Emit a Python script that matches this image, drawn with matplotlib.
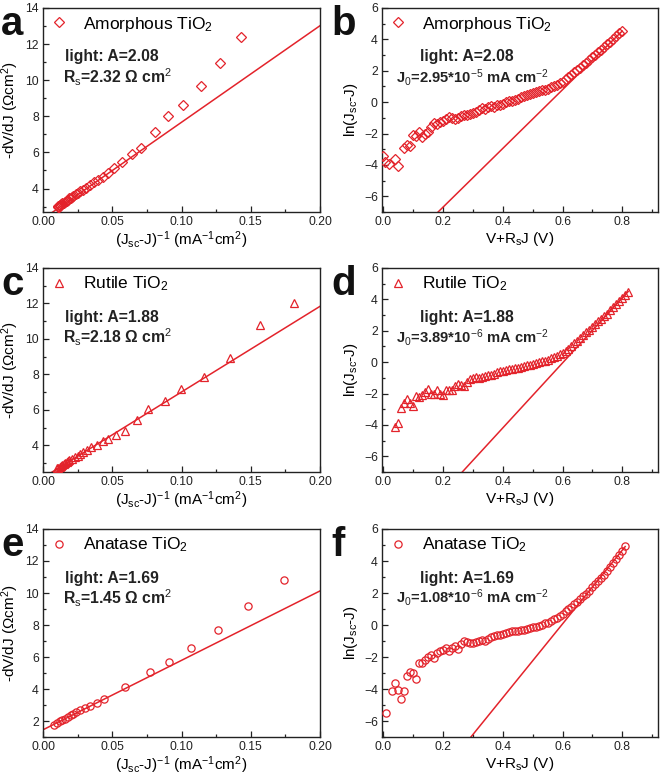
import matplotlib
matplotlib.use("Agg")
import matplotlib.pyplot as plt
from matplotlib.ticker import MultipleLocator, FormatStrFormatter

plt.rcParams['font.family'] = ['Liberation Sans', 'DejaVu Sans']
plt.rcParams['mathtext.fontset'] = 'custom'
plt.rcParams['mathtext.rm'] = 'Liberation Sans'
plt.rcParams['mathtext.it'] = 'Liberation Sans'
plt.rcParams['mathtext.bf'] = 'Liberation Sans:bold'

RED = '#e3232b'

# ---------------- data ----------------
# Panel a: amorphous TiO2, -dV/dJ vs (Jsc-J)^-1
a_x = [0.0105, 0.011, 0.0115, 0.012, 0.0125, 0.013, 0.014, 0.015, 0.016, 0.017, 0.018,
       0.019, 0.020, 0.021, 0.022, 0.0235, 0.025, 0.027, 0.029, 0.031, 0.034, 0.037,
       0.040, 0.043, 0.047, 0.051, 0.057, 0.064, 0.071, 0.081, 0.090, 0.101, 0.114,
       0.128, 0.143]
a_y = [3.05, 3.00, 2.98, 3.05, 3.08, 3.12, 3.18, 3.22, 3.28, 3.33, 3.38,
       3.45, 3.50, 3.55, 3.60, 3.68, 3.75, 3.85, 3.93, 4.05, 4.20, 4.35,
       4.48, 4.65, 4.85, 5.15, 5.48, 5.93, 6.23, 7.14, 8.00, 8.63, 9.70,
       10.96, 12.42]
a_fit_x = [0.0, 0.2]
a_fit_y = [2.32, 13.02]

# Panel c: rutile TiO2
c_x = [0.010, 0.011, 0.012, 0.013, 0.014, 0.015, 0.016, 0.017, 0.018, 0.019, 0.021,
       0.023, 0.025, 0.027, 0.029, 0.032, 0.035, 0.039, 0.043, 0.047, 0.053, 0.059,
       0.068, 0.076, 0.088, 0.100, 0.116, 0.135, 0.157, 0.181]
c_y = [2.70, 2.75, 2.80, 2.85, 2.90, 2.95, 3.00, 3.05, 3.10, 3.18, 3.25,
       3.32, 3.42, 3.50, 3.60, 3.75, 3.90, 4.05, 4.22, 4.35, 4.60, 4.79,
       5.45, 6.04, 6.49, 7.17, 7.87, 8.90, 10.79, 12.00]
c_fit_x = [0.0, 0.2]
c_fit_y = [2.18, 11.84]

# Panel e: anatase TiO2
e_x = [0.008, 0.010, 0.012, 0.014, 0.016, 0.018, 0.020, 0.022, 0.024, 0.027, 0.030,
       0.034, 0.039, 0.044, 0.059, 0.077, 0.091, 0.107, 0.126, 0.148, 0.174]
e_y = [1.78, 1.90, 1.98, 2.05, 2.15, 2.25, 2.35, 2.45, 2.55, 2.70, 2.80,
       2.95, 3.15, 3.37, 4.13, 5.05, 5.68, 6.54, 7.67, 9.19, 10.80]
e_fit_x = [0.0, 0.2]
e_fit_y = [1.45, 10.13]

# Panel b: amorphous TiO2, ln(Jsc-J) vs V+RsJ
b_x = [0.00, 0.005, 0.02, 0.04, 0.05, 0.07, 0.08, 0.09, 0.10, 0.11, 0.12, 0.13, 0.14,
       0.15, 0.16, 0.17, 0.18, 0.19, 0.20, 0.21, 0.22, 0.23, 0.24, 0.25, 0.26, 0.27,
       0.28, 0.29, 0.30, 0.31, 0.32, 0.33, 0.34, 0.35, 0.36, 0.37, 0.38, 0.39, 0.40,
       0.41, 0.42, 0.43, 0.44, 0.45, 0.46, 0.47, 0.48, 0.49, 0.50, 0.51, 0.52, 0.53,
       0.54, 0.55, 0.56, 0.57, 0.58, 0.59, 0.60, 0.61, 0.62, 0.63, 0.64, 0.65, 0.66,
       0.67, 0.68, 0.69, 0.70, 0.71, 0.72, 0.73, 0.74, 0.75, 0.76, 0.77, 0.78, 0.79,
       0.80]
b_y = [-3.4, -3.8, -3.95, -3.6, -4.1, -2.95, -2.7, -2.8, -2.1, -2.15, -1.9, -2.2, -2.0,
       -1.9, -1.6, -1.3, -1.4, -1.25, -1.2, -1.1, -0.95, -1.0, -1.05, -1.0, -0.9, -0.85,
       -0.8, -0.75, -0.7, -0.6, -0.5, -0.35, -0.45, -0.3, -0.25, -0.3, -0.2, -0.15, -0.1,
       0.0, 0.05, 0.1, 0.15, 0.2, 0.3, 0.4, 0.45, 0.5, 0.6, 0.65, 0.7, 0.75,
       0.8, 0.85, 0.95, 1.0, 1.1, 1.2, 1.3, 1.45, 1.6, 1.75, 1.9, 2.05, 2.2,
       2.35, 2.5, 2.7, 2.85, 3.0, 3.2, 3.35, 3.5, 3.7, 3.85, 4.05, 4.2, 4.4,
       4.55]
b_fit_x = [0.183, 0.80]
b_fit_y = [-7.0, 4.53]

# Panel d: rutile TiO2
d_x = [0.04, 0.05, 0.06, 0.07, 0.08, 0.09, 0.10, 0.11, 0.12, 0.13, 0.14, 0.15, 0.16,
       0.17, 0.18, 0.19, 0.20, 0.21, 0.22, 0.23, 0.24, 0.25, 0.26, 0.27, 0.28, 0.29,
       0.30, 0.31, 0.32, 0.33, 0.34, 0.35, 0.36, 0.37, 0.38, 0.39, 0.40, 0.41, 0.42,
       0.43, 0.44, 0.45, 0.46, 0.47, 0.48, 0.49, 0.50, 0.51, 0.52, 0.53, 0.54, 0.55,
       0.56, 0.57, 0.58, 0.59, 0.60, 0.61, 0.62, 0.63, 0.64, 0.65, 0.66, 0.67, 0.68,
       0.69, 0.70, 0.71, 0.72, 0.73, 0.74, 0.75, 0.76, 0.77, 0.78, 0.79, 0.80, 0.81,
       0.82]
d_y = [-4.15, -3.85, -2.95, -2.6, -2.35, -2.6, -2.8, -2.15, -2.2, -2.1, -1.9, -1.7, -2.0,
       -2.0, -1.75, -2.0, -2.1, -1.8, -1.75, -1.8, -1.5, -1.4, -1.45, -1.5, -1.25, -1.1,
       -1.0, -0.95, -1.0, -0.95, -0.9, -0.85, -0.8, -0.75, -0.65, -0.55, -0.55, -0.5, -0.45,
       -0.45, -0.4, -0.35, -0.3, -0.25, -0.2, -0.15, -0.1, -0.05, 0.0, 0.05, 0.1, 0.15,
       0.25, 0.35, 0.4, 0.5, 0.6, 0.7, 0.85, 1.0, 1.2, 1.35, 1.55, 1.7, 1.9,
       2.05, 2.25, 2.4, 2.6, 2.75, 2.95, 3.1, 3.3, 3.5, 3.7, 3.9, 4.1, 4.3,
       4.5]
d_fit_x = [0.264, 0.82]
d_fit_y = [-7.0, 4.5]

# Panel f: anatase TiO2
f_x = [0.01, 0.03, 0.04, 0.05, 0.06, 0.07, 0.08, 0.09, 0.10, 0.11, 0.12, 0.13, 0.14,
       0.15, 0.16, 0.17, 0.18, 0.19, 0.20, 0.21, 0.22, 0.23, 0.24, 0.25, 0.26, 0.27,
       0.28, 0.29, 0.30, 0.31, 0.32, 0.33, 0.34, 0.35, 0.36, 0.37, 0.38, 0.39, 0.40,
       0.41, 0.42, 0.43, 0.44, 0.45, 0.46, 0.47, 0.48, 0.49, 0.50, 0.51, 0.52, 0.53,
       0.54, 0.55, 0.56, 0.57, 0.58, 0.59, 0.60, 0.61, 0.62, 0.63, 0.64, 0.65, 0.66,
       0.67, 0.68, 0.69, 0.70, 0.71, 0.72, 0.73, 0.74, 0.75, 0.76, 0.77, 0.78, 0.79,
       0.80, 0.81]
f_y = [-5.5, -4.1, -3.6, -4.05, -4.6, -4.15, -3.2, -2.95, -3.0, -3.4, -2.4, -2.35, -2.2,
       -2.0, -1.85, -2.05, -1.75, -1.65, -1.55, -1.45, -1.6, -1.45, -1.3, -1.5, -1.2, -1.0,
       -1.05, -1.1, -1.1, -1.05, -1.0, -0.95, -1.0, -0.85, -0.75, -0.7, -0.65, -0.6, -0.55,
       -0.5, -0.45, -0.4, -0.35, -0.35, -0.3, -0.3, -0.25, -0.2, -0.15, -0.1, -0.05, 0.0,
       0.1, 0.15, 0.25, 0.35, 0.45, 0.55, 0.7, 0.85, 1.0, 1.15, 1.3, 1.45, 1.6,
       1.8, 1.95, 2.15, 2.35, 2.55, 2.75, 2.95, 3.15, 3.4, 3.6, 3.85, 4.1, 4.35,
       4.6, 4.95]
f_fit_x = [0.293, 0.81]
f_fit_y = [-7.0, 4.9]

names = ['Amorphous TiO$_2$', 'Rutile TiO$_2$', 'Anatase TiO$_2$']
amp = ['2.08', '1.88', '1.69']
rs_text = ['R$_s$=2.32 \u03a9 cm$^2$', 'R$_s$=2.18 \u03a9 cm$^2$', 'R$_s$=1.45 \u03a9 cm$^2$']
j0_text = ['J$_0$=2.95*10$^{-5}$ mA cm$^{-2}$', 'J$_0$=3.89*10$^{-6}$ mA cm$^{-2}$',
           'J$_0$=1.08*10$^{-6}$ mA cm$^{-2}$']
letters_left = ['a', 'c', 'e']
letters_right = ['b', 'd', 'f']
markers = ['D', '^', 'o']
msizes = [4.6, 5.6, 5.2]

left_data = [(a_x, a_y, a_fit_x, a_fit_y), (c_x, c_y, c_fit_x, c_fit_y), (e_x, e_y, e_fit_x, e_fit_y)]
right_data = [(b_x, b_y, b_fit_x, b_fit_y), (d_x, d_y, d_fit_x, d_fit_y), (f_x, f_y, f_fit_x, f_fit_y)]
left_ylims = [(2.7, 14), (2.5, 14), (1.0, 14)]

# ---------------- layout ----------------
W, H = 661, 782
fig = plt.figure(figsize=(W / 100, H / 100), dpi=100)

rows = [(8, 212), (268, 472), (529, 737)]
lcol = (43, 320)
rcol = (382, 658)


def rect(col, row):
    x0, x1 = col
    t, b = row
    return [x0 / W, 1 - b / H, (x1 - x0) / W, (b - t) / H]


def fx(px):
    return px / W


def fy(py):
    return 1 - py / H


def style(ax):
    for s in ax.spines.values():
        s.set_linewidth(1.0)
        s.set_color('#222222')
    ax.tick_params(which='both', direction='in', top=False, right=False,
                   labelsize=8.8, colors='#222222', width=0.9, pad=3)
    ax.tick_params(which='major', length=4)
    ax.tick_params(which='minor', length=2.2)


for i in range(3):
    row = rows[i]
    # left panel
    ax = fig.add_axes(rect(lcol, row))
    xs, ys, fxs, fys = left_data[i]
    ax.plot(fxs, fys, color=RED, lw=1.1, zorder=2)
    ax.plot(xs, ys, linestyle='none', marker=markers[i], ms=msizes[i], mfc='none',
            mec=RED, mew=0.9, label=names[i], zorder=3)
    ax.set_xlim(0, 0.2)
    ax.set_ylim(*left_ylims[i])
    ax.xaxis.set_major_locator(MultipleLocator(0.05))
    ax.xaxis.set_minor_locator(MultipleLocator(0.025))
    ax.xaxis.set_major_formatter(FormatStrFormatter('%.2f'))
    ax.yaxis.set_major_locator(MultipleLocator(2))
    ax.yaxis.set_minor_locator(MultipleLocator(1))
    style(ax)
    ax.set_xlabel('(J$_{sc}$-J)$^{-1}$ (mA$^{-1}$cm$^{2}$)', fontsize=11, labelpad=1)
    ax.set_ylabel('-dV/dJ (\u03a9cm$^2$)', fontsize=11, labelpad=3)
    ax.legend(loc='center left', bbox_to_anchor=(fx(50), fy(row[0] + 16)),
              bbox_transform=fig.transFigure, frameon=False, fontsize=12.5,
              handlelength=1.0, handletextpad=0.9, borderpad=0, borderaxespad=0)
    fig.text(fx(65), fy(row[0] + 49), 'light: A=' + amp[i], fontsize=11.3,
             fontweight='bold', va='center', ha='left', color='#222222')
    fig.text(fx(63), fy(row[0] + 69), rs_text[i], fontsize=11.3,
             fontweight='bold', va='center', ha='left', color='#222222')
    fig.text(fx(1), fy(row[0] + 27), letters_left[i], fontsize=29,
             fontweight='bold', va='baseline', ha='left', color='#111111')

    # right panel
    ax = fig.add_axes(rect(rcol, row))
    xs, ys, fxs, fys = right_data[i]
    ax.plot(fxs, fys, color=RED, lw=1.1, zorder=2)
    ax.plot(xs, ys, linestyle='none', marker=markers[i], ms=msizes[i], mfc='none',
            mec=RED, mew=0.9, label=names[i], zorder=3)
    ax.set_xlim(-0.005, 0.92)
    ax.set_ylim(-7, 6)
    ax.xaxis.set_major_locator(MultipleLocator(0.2))
    ax.xaxis.set_minor_locator(MultipleLocator(0.1))
    ax.xaxis.set_major_formatter(FormatStrFormatter('%.1f'))
    ax.yaxis.set_major_locator(MultipleLocator(2))
    ax.yaxis.set_minor_locator(MultipleLocator(1))
    style(ax)
    ax.set_xlabel('V+R$_s$J (V)', fontsize=11, labelpad=1)
    ax.set_ylabel('ln(J$_{sc}$-J)', fontsize=11, labelpad=3)
    ax.legend(loc='center left', bbox_to_anchor=(fx(389), fy(row[0] + 16)),
              bbox_transform=fig.transFigure, frameon=False, fontsize=12.5,
              handlelength=1.0, handletextpad=0.9, borderpad=0, borderaxespad=0)
    fig.text(fx(420), fy(row[0] + 49), 'light: A=' + amp[i], fontsize=11.3,
             fontweight='bold', va='center', ha='left', color='#222222')
    fig.text(fx(396), fy(row[0] + 69), j0_text[i], fontsize=10.6,
             fontweight='bold', va='center', ha='left', color='#222222')
    fig.text(fx(331), fy(row[0] + 27), letters_right[i], fontsize=29,
             fontweight='bold', va='baseline', ha='left', color='#111111')

fig.savefig('out.png', dpi=100)
